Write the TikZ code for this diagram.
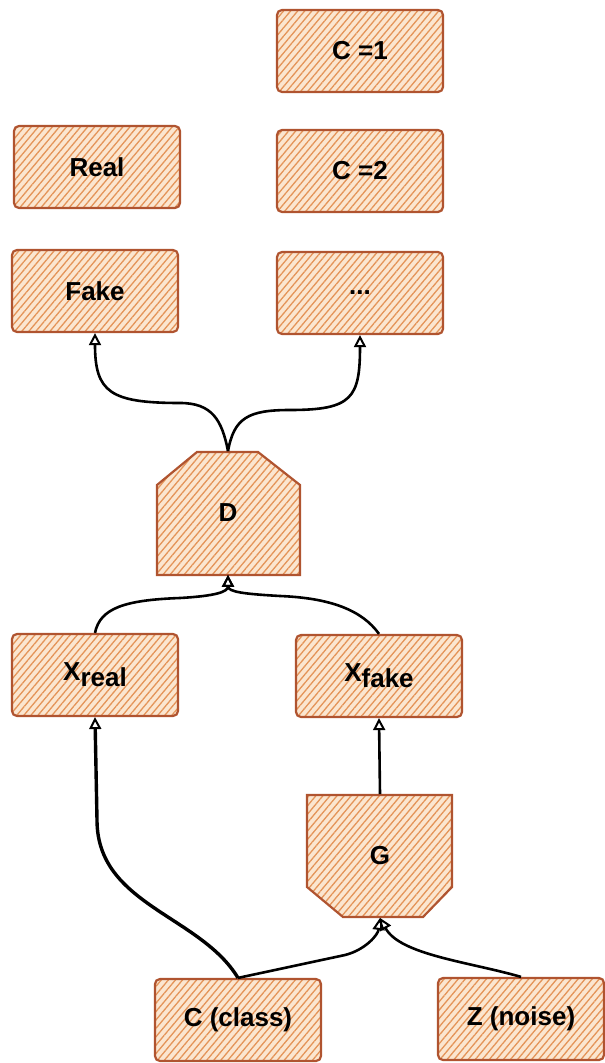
\documentclass[tikz,border=0pt]{standalone}
\usepackage{fontspec}
\setmainfont{Liberation Sans}
\usepackage{tikz}
\usetikzlibrary{arrows.meta,patterns.meta}

\definecolor{boxline}{RGB}{176,84,48}
\definecolor{hatch}{RGB}{228,148,88}
\definecolor{peach}{RGB}{251,230,208}

\tikzset{
  skin/.style={draw=boxline, line width=1.1pt,
    preaction={fill=peach}, pattern={Lines[angle=50,distance=2.7pt,line width=0.65pt]},
    pattern color=hatch},
  box/.style={skin, rounded corners=2.5pt, minimum width=83pt, minimum height=41pt, inner sep=0pt,
    font=\fontsize{13}{15}\selectfont\bfseries},
  net/.style={minimum width=71.5pt, minimum height=61.5pt, inner sep=0pt,
    font=\fontsize{13}{15}\selectfont\bfseries},
  link/.style={draw=black, line width=1.3pt, -{Triangle[open,length=6pt,width=6pt,line width=1pt]}}
}

\begin{document}
\begin{tikzpicture}[x=0.5pt,y=-0.5pt]
  \useasboundingbox (0,0) rectangle (604,1063);
  % class outputs
  \node[box] (c1) at (360,51) {C =1};
  \node[box] (c2) at (360,171) {C =2};
  \node[box] (real) at (97,167) {Real};
  \node[box] (fake) at (95,291) {Fake};
  \node[box] (dots) at (360,293) {...};
  % discriminator and samples
  \path[skin] (157,485) -- (197,452) -- (258,452) -- (300,485) -- (300,575) -- (157,575) -- cycle;
  \node[net] (D) at (228,513) {D};
  \node[box] (xreal) at (95,675) {X\raisebox{-3pt}{real}};
  \node[box] (xfake) at (379,676) {X\raisebox{-3pt}{fake}};
  % generator and inputs
  \path[skin] (307,795) -- (452,795) -- (452,887) -- (423,917) -- (343,917) -- (307,887) -- cycle;
  \node[net] (G) at (380,856) {G};
  \node[box] (cls) at (238,1020) {C (class)};
  \node[box] (noise) at (521,1019) {Z (noise)};

  \draw[link] (D.north) .. controls (222,420) and (212,403) .. (180,403) .. controls (110,403) and (95,392) .. (fake.south);
  \draw[link] (D.north) .. controls (234,418) and (248,410) .. (290,410) .. controls (352,410) and (360,398) .. (dots.south);
  \draw[link] (xreal.north) .. controls (100,608) and (125,600) .. (180,598) .. controls (215,596) and (228,592) .. (D.south);
  \draw[link] (xfake.north) .. controls (362,610) and (330,598) .. (280,596) .. controls (245,594) and (228,592) .. (D.south);
  \draw[link, line width=1.7pt] (cls.north) .. controls (200,915) and (97,905) .. (97,820) -- (xreal.south);
  \draw[link] (cls.north) -- (345,955) .. controls (365,950) and (378,935) .. (G.south);
  \draw[link] (noise.north) .. controls (470,962) and (400,955) .. (G.south);
  \draw[link] (G.north) -- (xfake.south);
\end{tikzpicture}
\end{document}
